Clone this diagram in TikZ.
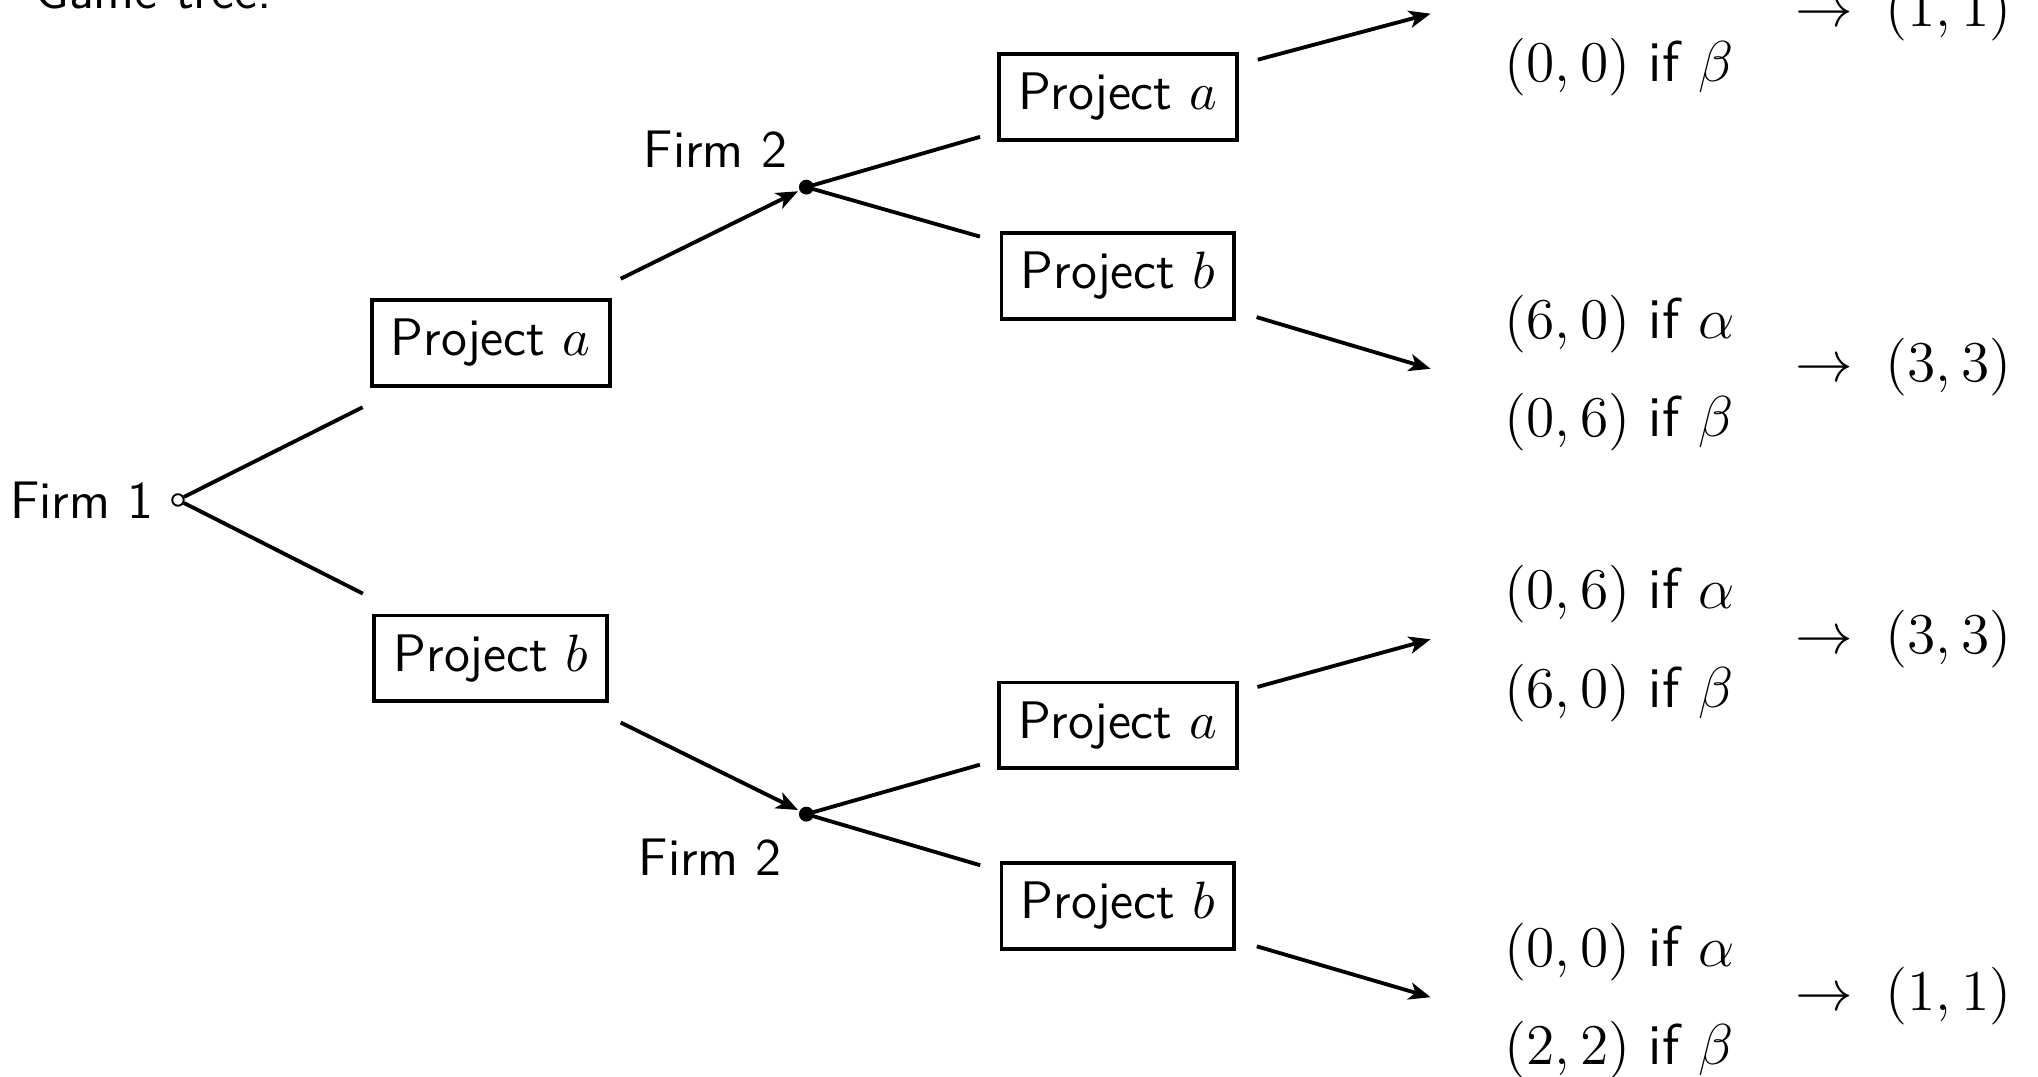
\documentclass[tikz,border=0pt]{standalone}
\usepackage{amsmath,amssymb}
\usepackage{tikz}
\usetikzlibrary{arrows.meta}
\renewcommand{\familydefault}{\sfdefault}

\begin{document}
\begin{tikzpicture}[thick,>={Stealth[length=4.5pt,width=3.6pt,inset=1.2pt]},
		every node/.style={font=\fontsize{11}{13.6}\selectfont},
		proj/.style={draw,rectangle,inner sep=4pt},
		pay/.style={anchor=west,align=left,inner xsep=15pt,font=\fontsize{12}{14.5}\selectfont},
		res/.style={anchor=west,inner sep=0pt,font=\fontsize{12}{14.5}\selectfont},
		intobox/.style={shorten >=1.05cm},
		outofbox/.style={shorten <=1.06cm}]
		\useasboundingbox (-1.303,-4.224) rectangle (13.616,3.660);
		\clip (-1.303,-4.224) rectangle (13.616,3.660);
		
		\node[anchor=base west](title) at (-1.18,3.60) {Game tree:};
		
		\node[circle,draw,thin,fill=white,inner sep=0pt,minimum size=2.4pt,label={left:Firm 1}](F1) at (0,0) {};
		\node[proj](PA) at (2.29,1.15) {Project $a$};
		\node[proj](PB) at (2.29,-1.16) {Project $b$};
		\node[circle,fill,inner sep=0pt,minimum size=3.1pt,label={[label distance=-1.5pt]above left:Firm 2}](F2a) at (4.60,2.29) {};
		\node[circle,fill,inner sep=0pt,minimum size=3.1pt,label={below left:Firm 2}](F2b) at (4.60,-2.30) {};
		
		\node[proj](PAa) at (6.88,2.95) {Project $a$};
		\node[proj](PAb) at (6.88,1.64) {Project $b$};
		\node[proj](PBa) at (6.88,-1.65) {Project $a$};
		\node[proj](PBb) at (6.88,-2.97) {Project $b$};
		
		\node[pay](payAa) at (9.17,3.53) {$(0,0)$ if $\alpha$\\[6pt]$(0,0)$ if $\beta$};
		\node[pay](payAb) at (9.17,0.93) {$(6,0)$ if $\alpha$\\[6pt]$(0,6)$ if $\beta$};
		\node[pay](payBa) at (9.17,-1.05) {$(0,6)$ if $\alpha$\\[6pt]$(6,0)$ if $\beta$};
		\node[pay](payBb) at (9.17,-3.67) {$(0,0)$ if $\alpha$\\[6pt]$(2,2)$ if $\beta$};
		
		\node[res](resAa) at (11.83,3.57) {$\rightarrow\;(1,1)$};
		\node[res](resAb) at (11.83,0.97) {$\rightarrow\;(3,3)$};
		\node[res](resBa) at (11.83,-1.02) {$\rightarrow\;(3,3)$};
		\node[res](resBb) at (11.83,-3.63) {$\rightarrow\;(1,1)$};
		
		\draw[intobox] (F1)--(PA.center);
		\draw[intobox] (F1)--(PB.center);
		\draw[->,outofbox] (PA.center)--(F2a);
		\draw[->,outofbox] (PB.center)--(F2b);
		
		\draw[intobox] (F2a.center)--(PAa.center);
		\draw[intobox] (F2a.center)--(PAb.center);
		\draw[intobox] (F2b.center)--(PBa.center);
		\draw[intobox] (F2b.center)--(PBb.center);
		
		\draw[->,outofbox] (PAa.center)--([yshift=0.03cm]payAa.west);
		\draw[->,outofbox] (PAb.center)--([yshift=0.03cm]payAb.west);
		\draw[->,outofbox] (PBa.center)--([yshift=0.03cm]payBa.west);
		\draw[->,outofbox] (PBb.center)--([yshift=0.03cm]payBb.west);
	\end{tikzpicture}
\end{document}
